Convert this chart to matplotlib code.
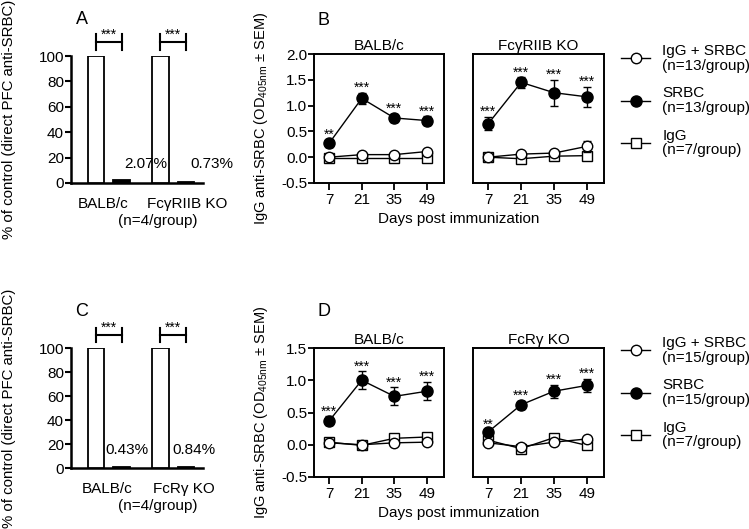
import matplotlib
matplotlib.use('Agg')
import matplotlib.pyplot as plt
from matplotlib.lines import Line2D

plt.rcParams['font.family'] = ['Liberation Sans', 'DejaVu Sans']
plt.rcParams['mathtext.fontset'] = 'custom'
plt.rcParams['mathtext.rm'] = 'Liberation Sans'
plt.rcParams['mathtext.it'] = 'Liberation Sans:italic'

# ---------------- data ----------------
days = [7, 21, 35, 49]

pfc_groups_A = ['BALB/c', 'FcγRIIB KO']
pfc_values_A = [100, 2.07, 100, 0.73]
pfc_labels_A = ['2.07%', '0.73%']

pfc_groups_C = ['BALB/c', 'FcRγ KO']
pfc_values_C = [100, 0.43, 100, 0.84]
pfc_labels_C = ['0.43%', '0.84%']
group_note = '(n=4/group)'

# Panel B, BALB/c
b_balb_srbc = [0.27, 1.14, 0.76, 0.71]
b_balb_srbc_err = [0.07, 0.11, 0.08, 0.08]
b_balb_igs = [0.0, 0.05, 0.05, 0.11]
b_balb_igs_err = [0.02, 0.02, 0.02, 0.03]
b_balb_igg = [-0.02, -0.02, -0.02, -0.02]
b_balb_igg_err = [0.01, 0.01, 0.01, 0.01]
b_balb_stars = ['**', '***', '***', '***']

# Panel B, FcgRIIB KO
b_ko_srbc = [0.65, 1.45, 1.25, 1.17]
b_ko_srbc_err = [0.13, 0.10, 0.25, 0.20]
b_ko_igs = [0.0, 0.06, 0.08, 0.21]
b_ko_igs_err = [0.02, 0.03, 0.04, 0.10]
b_ko_igg = [0.0, -0.03, 0.02, 0.03]
b_ko_igg_err = [0.01, 0.01, 0.02, 0.02]
b_ko_stars = ['***', '***', '***', '***']

# Panel D, BALB/c
d_balb_srbc = [0.37, 1.00, 0.75, 0.83]
d_balb_srbc_err = [0.07, 0.14, 0.14, 0.14]
d_balb_igs = [0.03, 0.0, 0.03, 0.04]
d_balb_igs_err = [0.02, 0.02, 0.02, 0.02]
d_balb_igg = [0.04, -0.01, 0.10, 0.12]
d_balb_igg_err = [0.02, 0.02, 0.02, 0.02]
d_balb_stars = ['***', '***', '***', '***']

# Panel D, FcRg KO
d_ko_srbc = [0.20, 0.62, 0.83, 0.92]
d_ko_srbc_err = [0.03, 0.06, 0.10, 0.10]
d_ko_igs = [0.03, -0.03, 0.04, 0.09]
d_ko_igs_err = [0.02, 0.02, 0.02, 0.02]
d_ko_igg = [0.07, -0.06, 0.11, -0.01]
d_ko_igg_err = [0.02, 0.02, 0.02, 0.02]
d_ko_stars = ['**', '***', '***', '***']

legend_B = ['IgG + SRBC\n(n=13/group)', 'SRBC\n(n=13/group)', 'IgG\n(n=7/group)']
legend_D = ['IgG + SRBC\n(n=15/group)', 'SRBC\n(n=15/group)', 'IgG\n(n=7/group)']

# ---------------- layout ----------------
W, H = 749, 529
fig = plt.figure(figsize=(W / 100, H / 100), dpi=100)


def add_px(l, t, r, b):
    return fig.add_axes([l / W, 1 - b / H, (r - l) / W, (b - t) / H])


FS = 11
STAR_FS = 10
bar_pos = [0, 1, 2.5, 3.5]


def bar_panel(ax, values, pct_labels, pct_x, groups, group_x, letter):
    ax.bar(bar_pos, values, width=0.64, color=['white', 'black', 'white', 'black'],
           edgecolor='black', linewidth=1.3, zorder=3)
    ax.set_xlim(-0.96, 4.15)
    ax.set_ylim(0, 100)
    ax.set_yticks([0, 20, 40, 60, 80, 100])
    ax.tick_params(axis='y', labelsize=FS, length=4, width=1.5, pad=1)
    ax.set_xticks(group_x, groups)
    ax.tick_params(axis='x', labelsize=FS, length=0, pad=10)
    for s in ['top', 'right']:
        ax.spines[s].set_visible(False)
    ax.spines['left'].set_linewidth(1.8)
    ax.spines['bottom'].set_linewidth(1.8)
    ax.spines['left'].set_bounds(0, 100)
    for lab, x in zip(pct_labels, pct_x):
        ax.text(x, 15, lab, fontsize=FS, ha='left', va='center')
    for g in (0, 2):
        xa, xb = bar_pos[g], bar_pos[g + 1]
        ax.plot([xa, xb], [111, 111], color='black', lw=1.5, clip_on=False)
        ax.plot([xa, xa], [105, 117], color='black', lw=1.5, clip_on=False)
        ax.plot([xb, xb], [105, 117], color='black', lw=1.5, clip_on=False)
        ax.annotate('***', ((xa + xb) / 2, 111), xytext=(0, 0), textcoords='offset points',
                    fontsize=STAR_FS, ha='center', va='bottom', annotation_clip=False)
    ax.annotate(letter, (-0.55, 100), xytext=(0, 26), textcoords='offset points',
                fontsize=13, ha='center', va='center', annotation_clip=False)
    ax.set_ylabel('% of control (direct PFC anti-SRBC)', fontsize=10.8, labelpad=16)
    ax.annotate(group_note, (2.38, 0), xycoords=('data', 'axes fraction'),
                xytext=(0, -22), textcoords='offset points', fontsize=FS,
                ha='center', va='top', annotation_clip=False)


def series(ax, srbc, srbc_err, igs, igs_err, igg, igg_err, stars):
    ax.errorbar(days, igg, yerr=igg_err, color='black', lw=1, marker='s', ms=7,
                mfc='white', mec='black', mew=1, capsize=3, elinewidth=1, zorder=3)
    ax.errorbar(days, igs, yerr=igs_err, color='black', lw=1, marker='o', ms=7.5,
                mfc='white', mec='black', mew=1, capsize=3, elinewidth=1, zorder=4)
    ax.errorbar(days, srbc, yerr=srbc_err, color='black', lw=1, marker='o', ms=8,
                mfc='black', mec='black', capsize=3, elinewidth=1, zorder=5)
    for d, v, e, s in zip(days, srbc, srbc_err, stars):
        ax.annotate(s, (d, v + e), xytext=(0, -1.5), textcoords='offset points',
                    ha='center', va='bottom', fontsize=STAR_FS)


def line_panel(ax, ylim, yticks, title, show_y):
    ax.set_xlim(0.5, 56.3)
    ax.set_ylim(*ylim)
    ax.set_xticks(days)
    ax.tick_params(axis='x', labelsize=FS, length=5, width=1.3, pad=2)
    for s in ax.spines.values():
        s.set_linewidth(1.4)
    if show_y:
        ax.set_yticks(yticks)
        ax.set_yticklabels([f'{t:.1f}' for t in yticks])
        ax.tick_params(axis='y', labelsize=FS, length=4, width=1.3, pad=1)
    else:
        ax.set_yticks([])
    ax.set_title(title, fontsize=FS, pad=3)


def legend(labels, top_px):
    handles = [
        Line2D([], [], color='black', lw=1, marker='o', ms=7.5, mfc='white', mec='black'),
        Line2D([], [], color='black', lw=1, marker='o', ms=8, mfc='black', mec='black'),
        Line2D([], [], color='black', lw=1, marker='s', ms=7, mfc='white', mec='black'),
    ]
    leg = fig.legend(handles, labels, loc='upper left', bbox_to_anchor=(621 / W, 1 - top_px / H),
                     frameon=False, fontsize=FS, handlelength=1.9, handletextpad=0.8,
                     labelspacing=0.9, borderpad=0, borderaxespad=0)
    for t in leg.get_texts():
        t.set_linespacing(1.05)


ylab = r'IgG anti-SRBC (OD$_{\mathregular{405nm}}$ ± SEM)'

# Panel A
axA = add_px(71, 56, 203, 183)
bar_panel(axA, pfc_values_A, pfc_labels_A, [1.1, 3.65], pfc_groups_A, [0.3, 3.54], 'A')

# Panel C
axC = add_px(71, 348, 203, 468)
bar_panel(axC, pfc_values_C, pfc_labels_C, [0.38, 2.95], pfc_groups_C, [0.45, 3.4], 'C')

# Panel B
axB1 = add_px(314, 54, 444, 183)
series(axB1, b_balb_srbc, b_balb_srbc_err, b_balb_igs, b_balb_igs_err,
       b_balb_igg, b_balb_igg_err, b_balb_stars)
line_panel(axB1, (-0.5, 2.0), [-0.5, 0.0, 0.5, 1.0, 1.5, 2.0], 'BALB/c', True)
axB1.set_ylabel(ylab, fontsize=10.5, labelpad=8)
axB1.text(0.025, 1.256, 'B', fontsize=13, transform=axB1.transAxes, ha='left', va='center')

axB2 = add_px(473, 54, 604, 183)
series(axB2, b_ko_srbc, b_ko_srbc_err, b_ko_igs, b_ko_igs_err,
       b_ko_igg, b_ko_igg_err, b_ko_stars)
line_panel(axB2, (-0.5, 2.0), None, 'FcγRIIB KO', False)
fig.text(459 / W, 1 - 219 / H, 'Days post immunization', fontsize=FS, ha='center', va='center')
legend(legend_B, 44)

# Panel D
axD1 = add_px(314, 348, 444, 477)
series(axD1, d_balb_srbc, d_balb_srbc_err, d_balb_igs, d_balb_igs_err,
       d_balb_igg, d_balb_igg_err, d_balb_stars)
line_panel(axD1, (-0.5, 1.5), [-0.5, 0.0, 0.5, 1.0, 1.5], 'BALB/c', True)
axD1.set_ylabel(ylab, fontsize=10.5, labelpad=8)
axD1.text(0.025, 1.28, 'D', fontsize=13, transform=axD1.transAxes, ha='left', va='center')

axD2 = add_px(473, 348, 604, 477)
series(axD2, d_ko_srbc, d_ko_srbc_err, d_ko_igs, d_ko_igs_err,
       d_ko_igg, d_ko_igg_err, d_ko_stars)
line_panel(axD2, (-0.5, 1.5), None, 'FcRγ KO', False)
fig.text(459 / W, 1 - 513 / H, 'Days post immunization', fontsize=FS, ha='center', va='center')
legend(legend_D, 336)

fig.savefig('out.png', dpi=100)
